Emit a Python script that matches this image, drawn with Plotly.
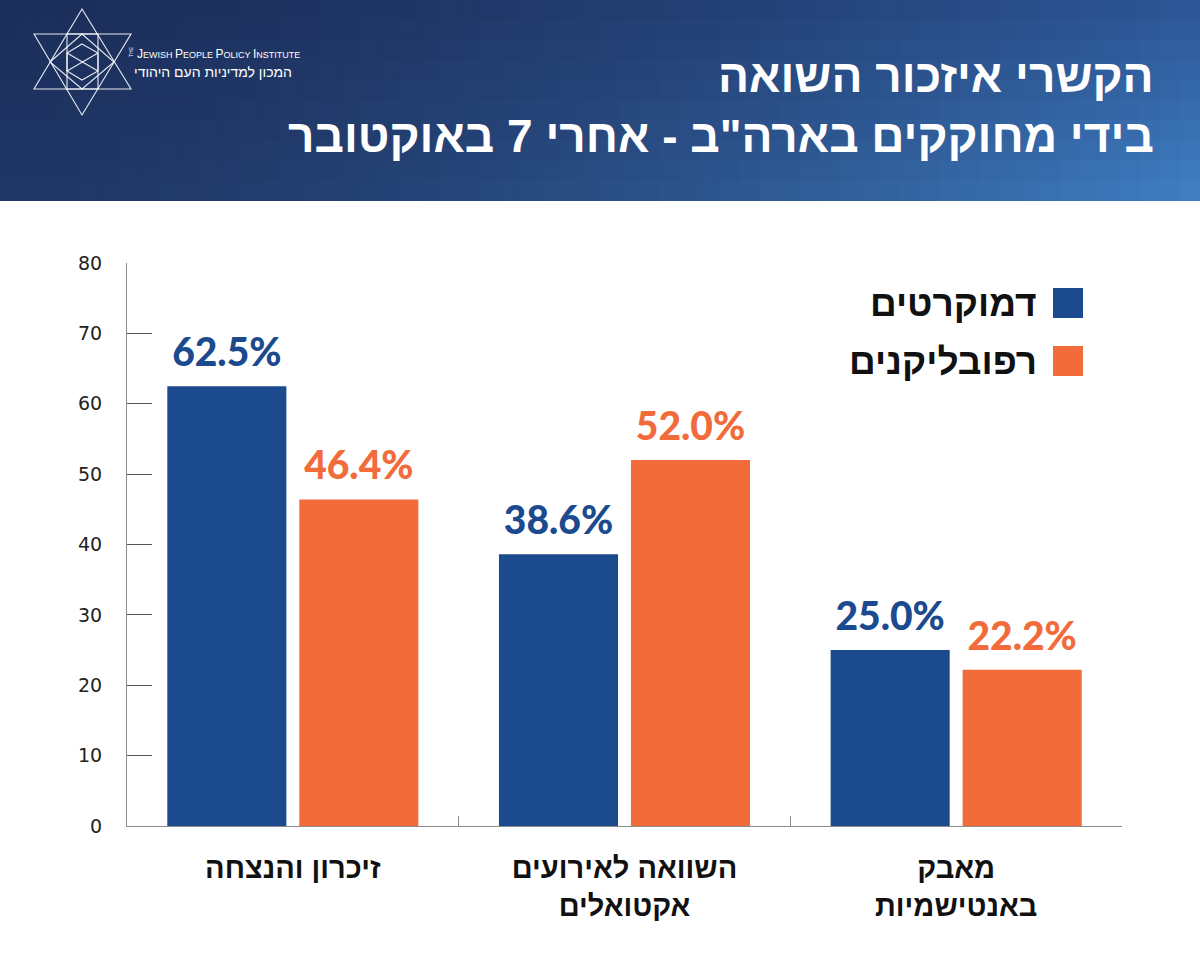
import plotly.graph_objects as go

# ---------------- data ----------------
categories = ["זיכרון והנצחה", "השוואה לאירועים<br>אקטואלים", "מאבק<br>באנטישמיות"]
series_names = ["דמוקרטים", "רפובליקנים"]
democrats = [62.5, 38.6, 25.0]
republicans = [46.4, 52.0, 22.2]
series_values = [democrats, republicans]
series_colors = ["#1c4a8f", "#f26b3a"]
y_ticks = [0, 10, 20, 30, 40, 50, 60, 70, 80]
title_lines = ["הקשרי איזכור השואה", "בידי מחוקקים בארה\"ב - אחרי 7 באוקטובר"]
logo_he = "המכון למדיניות העם היהודי"

HEB = "Liberation Sans, DejaVu Sans"

# ---------------- geometry helpers ----------------
W, H = 1200, 960
L, R, T, B = 127, 78, 263, 134
PW, PH = W - L - R, H - T - B


def px(x):
    return (x - L) / PW


def py(y):
    return (H - B - y) / PH


fig = go.Figure()

for name, vals, col, og in zip(series_names, series_values, series_colors, ["a", "b"]):
    fig.add_trace(go.Bar(
        x=categories, y=vals, name=name, marker=dict(color=col, line=dict(width=0)),
        offsetgroup=og, hoverinfo="skip",
    ))
for name, vals, col, og in zip(series_names, series_values, series_colors, ["a", "b"]):
    fig.add_trace(go.Scatter(
        x=categories, y=vals, mode="markers+text", offsetgroup=og,
        marker=dict(size=15, opacity=0, color=col),
        text=[f"{v:.1f}%" for v in vals], textposition="top center",
        textfont=dict(family="Lato, DejaVu Sans", size=39, color=col, weight=900),
        cliponaxis=False, hoverinfo="skip", showlegend=False,
    ))

shapes = []
annotations = []

# ---------------- header gradient ----------------
TL, TR, BL, BR = (28, 46, 90), (44, 85, 149), (31, 55, 102), (64, 128, 196)
HB = 201
nx, ny = 60, 10
for i in range(nx):
    for j in range(ny):
        x0, x1 = i * W / nx, (i + 1) * W / nx
        y0, y1 = j * HB / ny, (j + 1) * HB / ny
        wx = ((x0 + x1) / 2 / W) ** 1.6
        wy = ((y0 + y1) / 2) / HB
        c = [
            (1 - wx) * (1 - wy) * TL[k] + wx * (1 - wy) * TR[k]
            + (1 - wx) * wy * BL[k] + wx * wy * BR[k]
            for k in range(3)
        ]
        shapes.append(dict(
            type="rect", xref="paper", yref="paper",
            x0=px(x0 - 0.6), x1=px(x1 + 0.6), y0=py(min(y1 + 0.6, HB)), y1=py(y0 - 0.6),
            fillcolor="rgb(%d,%d,%d)" % tuple(int(round(v)) for v in c),
            line=dict(width=0), layer="above",
        ))

# ---------------- logo ----------------
def path(points, closed=True):
    s = "M " + " L ".join(f"{px(x):.5f},{py(y):.5f}" for x, y in points)
    return s + (" Z" if closed else "")


logo_lines = [
    [(82, 9), (34, 89), (131, 89)],
    [(34, 34), (131, 34), (82, 115)],
    [(67, 34), (98, 34), (98, 89), (67, 89)],
    [(50, 62), (82, 34), (114, 62), (82, 89)],
    [(82, 44), (98, 53), (98, 71), (82, 80), (67, 71), (67, 53)],
    [(67, 53), (98, 71)],
    [(98, 53), (67, 71)],
]
for pts in logo_lines:
    shapes.append(dict(type="path", xref="paper", yref="paper", path=path(pts, len(pts) > 2),
                       line=dict(color="rgba(255,255,255,0.9)", width=1.1), layer="above"))

big = "<span style='font-size:12px'>%s</span>"
annotations.append(dict(
    xref="paper", yref="paper", x=px(135), y=py(54), xanchor="left", yanchor="middle",
    text=(big % "J") + "EWISH " + (big % "P") + "EOPLE " + (big % "P") + "OLICY " + (big % "I") + "NSTITUTE",
    showarrow=False, font=dict(family="Liberation Sans Narrow, Liberation Sans", size=9, color="white"),
))
annotations.append(dict(
    xref="paper", yref="paper", x=px(131), y=py(52), xanchor="center", yanchor="middle",
    text="THE", textangle=-90, showarrow=False,
    font=dict(family="Liberation Sans", size=5, color="white"),
))
annotations.append(dict(
    xref="paper", yref="paper", x=px(294), y=py(72), xanchor="right", yanchor="middle",
    text=logo_he, showarrow=False,
    font=dict(family="Liberation Sans Narrow, Liberation Sans", size=14, color="white"),
))

# ---------------- title ----------------
for line, yc in zip(title_lines, [76, 136]):
    annotations.append(dict(
        xref="paper", yref="paper", x=px(1156), y=py(yc), xanchor="right", yanchor="middle",
        text=line, showarrow=False,
        font=dict(family=HEB, size=46, color="white", weight="bold"),
    ))

# ---------------- legend (symbol on the right) ----------------
for name, col, yc in zip(series_names, series_colors, [303, 361]):
    shapes.append(dict(type="rect", xref="paper", yref="paper",
                       x0=px(1053), x1=px(1083), y0=py(yc + 15), y1=py(yc - 15),
                       fillcolor=col, line=dict(width=0)))
    annotations.append(dict(
        xref="paper", yref="paper", x=px(1039), y=py(yc), xanchor="right", yanchor="middle",
        text=name, showarrow=False,
        font=dict(family=HEB, size=37, color="#111111", weight="bold"),
    ))

fig.update_layout(
    width=W, height=H,
    margin=dict(l=L, r=R, t=T, b=B, pad=0),
    paper_bgcolor="white", plot_bgcolor="white",
    barmode="group", bargap=0.204, bargroupgap=0.098,
    scattermode="group", scattergap=0.204,
    showlegend=False,
    shapes=shapes, annotations=annotations,
    xaxis=dict(
        type="category", showline=True, linecolor="#8c8c8c", linewidth=1,
        ticks="inside", tickson="boundaries", ticklen=10, tickcolor="#8c8c8c",
        showgrid=False, ticklabelstandoff=16,
        tickfont=dict(family=HEB, size=29, color="#111111", weight="bold"),
    ),
    yaxis=dict(
        range=[0, 80], tickvals=y_ticks, showline=True, linecolor="#8c8c8c", linewidth=1,
        ticks="inside", ticklen=25, tickcolor="#555555", showgrid=False, zeroline=False,
        ticklabelstandoff=20,
        tickfont=dict(family="DejaVu Sans", size=19, color="#222222"),
    ),
)

fig.write_html("out.html")
